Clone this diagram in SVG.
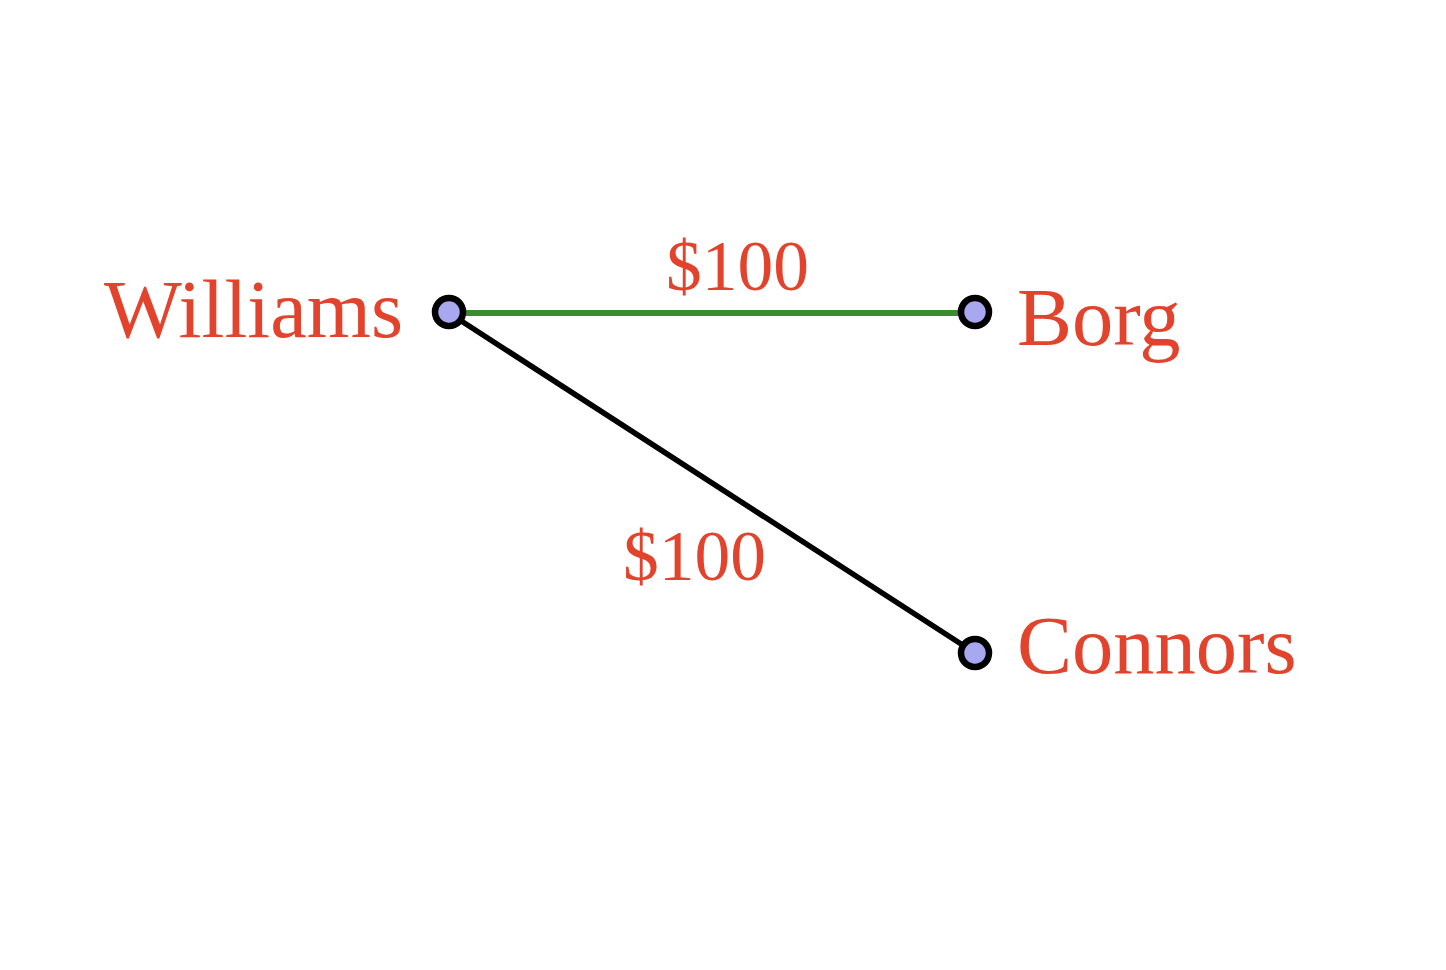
<svg xmlns="http://www.w3.org/2000/svg" width="1446" height="970" viewBox="0 0 1446 970">
<style>
text{font-family:"Liberation Serif","Times New Roman",serif;fill:#e2432c}
.name{font-size:82.5px}
.lbl{font-size:71.5px}
.node{fill:#a7a8f0;stroke:#000;stroke-width:6.5}
</style>
<rect width="1446" height="970" fill="#fff"/>
<g id="edges">
<line x1="449" y1="313" x2="975" y2="313" stroke="#3b8c2c" stroke-width="6"/>
<line x1="449" y1="313" x2="975" y2="653" stroke="#000" stroke-width="5.5"/>
<text class="lbl" x="666" y="290">$100</text>
<text class="lbl" x="623" y="580">$100</text>
</g>
<g id="williams">
<circle class="node" cx="449" cy="312" r="14"/>
<text class="name" x="104" y="337">Williams</text>
</g>
<g id="borg">
<circle class="node" cx="975" cy="312" r="14"/>
<text class="name" x="1017" y="345">Borg</text>
</g>
<g id="connors">
<circle class="node" cx="975" cy="653" r="14"/>
<text class="name" x="1017" y="673">Connors</text>
</g>
</svg>
